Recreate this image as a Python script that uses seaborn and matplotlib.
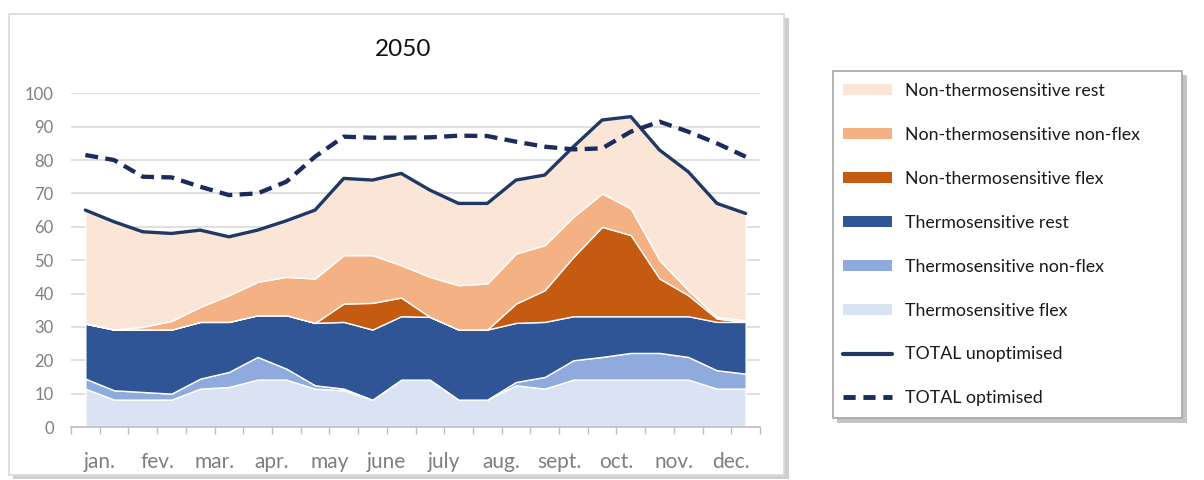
import numpy as np
import pandas as pd
import matplotlib
matplotlib.use("Agg")
import matplotlib.pyplot as plt
import seaborn as sns
from matplotlib.patches import Rectangle, Patch
from matplotlib.lines import Line2D

# ---- data (24 half-month points) ----
months = ["jan.", "fev.", "mar.", "apr.", "may", "june", "july", "aug.",
          "sept.", "oct.", "nov.", "dec."]
thermo_flex = [11.5, 8.2, 8.2, 8.2, 11.5, 12, 14.2, 14.2, 11.5, 11, 8.2, 14.2,
               14.2, 8.2, 8.2, 12.5, 11.5, 14.2, 14.2, 14.2, 14.2, 14.2, 11.5, 11.5]
thermo_nonflex = [3, 2.8, 2.3, 1.8, 3, 4.5, 6.8, 3.3, 1, 0.5, 0, 0,
                  0, 0, 0, 1, 3.5, 5.8, 6.8, 8, 8, 6.8, 5.5, 4.5]
thermo_rest = [16.5, 18.2, 18.7, 19.2, 17, 15, 12.5, 16, 18.7, 20, 21, 19,
               18.8, 21, 21, 17.7, 16.5, 13.2, 12.2, 11, 11, 12.2, 14.5, 15.5]
nonthermo_flex = [0, 0, 0, 0, 0, 0, 0, 0, 0, 5.5, 8, 5.6,
                  0, 0, 0, 5.8, 9.5, 17.8, 26.8, 24.3, 11.3, 6.3, 1, 0]
nonthermo_nonflex = [0, 0, 0.8, 2.6, 4.5, 8, 10, 11.5, 13.3, 14.5, 14.3, 9.7,
                     12, 13.3, 13.8, 15, 13.5, 12, 10, 8, 5.5, 1.5, 0.5, 0.5]
nonthermo_rest = [34, 32.3, 28.5, 26.2, 23, 17.5, 15.5, 16.5, 20.5, 23, 22.5, 27.5,
                  26, 24.5, 24, 22, 21, 21, 22, 27.5, 33, 35.5, 34, 32]
total_unoptimised = [65, 61.5, 58.5, 58, 59, 57, 59, 61.8, 65, 74.5, 74, 76,
                     71, 67, 67, 74, 75.5, 84, 92, 93, 83, 76.5, 67, 64]
total_optimised = [81.5, 80, 75, 74.8, 72, 69.5, 70, 73.5, 81, 87, 86.7, 86.7,
                   86.8, 87.3, 87.2, 85.5, 84, 83.2, 83.5, 88.5, 91.5, 88.5, 85, 81]

layer_names = ["Thermosensitive flex", "Thermosensitive non-flex", "Thermosensitive rest",
               "Non-thermosensitive flex", "Non-thermosensitive non-flex",
               "Non-thermosensitive rest"]
layers = [thermo_flex, thermo_nonflex, thermo_rest,
          nonthermo_flex, nonthermo_nonflex, nonthermo_rest]
layer_colors = ["#DAE3F3", "#8FAADC", "#2F5597", "#C55A11", "#F4B183", "#FBE5D6"]
solid_col = "#203864"
dash_col = "#1A2B5C"

x = np.arange(len(total_unoptimised))
df = pd.DataFrame({"x": np.concatenate([x, x]),
                   "value": total_unoptimised + total_optimised,
                   "series": ["TOTAL unoptimised"] * len(x) + ["TOTAL optimised"] * len(x)})

sns.set_theme(style="white")
plt.rcParams["font.family"] = ["Lato", "DejaVu Sans"]

fig = plt.figure(figsize=(12.04, 4.8), dpi=100)
W, H = 1204, 480


def frect(x0, y0, x1, y1, **kw):
    fig.patches.append(Rectangle((x0 / W, 1 - y1 / H), (x1 - x0) / W, (y1 - y0) / H,
                                 transform=fig.transFigure, **kw))


# chart frame with shadow
frect(13, 18, 789, 479, facecolor="#CFCFCF", edgecolor="none", zorder=-3)
frect(9, 14, 784, 475, facecolor="white", edgecolor="#D9D9D9", lw=1.2, zorder=-2)
# legend frame with shadow
frect(837, 75, 1187, 423, facecolor="#C4C4C4", edgecolor="none", zorder=-3)
frect(833, 71, 1182, 418, facecolor="white", edgecolor="#A6A6A6", lw=1.2, zorder=-2)

ax = fig.add_axes([71 / W, 1 - 427 / H, (760 - 71) / W, (427 - 93.3) / H])
ax.set_facecolor("none")

ax.stackplot(x, *layers, colors=layer_colors, labels=layer_names, zorder=2)
sns.lineplot(data=df[df.series == "TOTAL unoptimised"], x="x", y="value",
             color=solid_col, linewidth=2.4, legend=False, ax=ax, zorder=3)
sns.lineplot(data=df[df.series == "TOTAL optimised"], x="x", y="value",
             color=dash_col, linewidth=3.1, dashes=(3.0, 1.7), legend=False, ax=ax, zorder=3)

ax.set_xlim(-0.5, len(x) - 0.5)
ax.set_ylim(0, 100)
ax.set_yticks(np.arange(0, 101, 10))
ax.yaxis.grid(True, color="#D9D9D9", lw=1.2, zorder=0)
ax.set_axisbelow(True)
ticks = np.arange(-0.5, len(x), 1)
labels = [months[(i - 1) // 2] if i % 2 == 1 else "" for i in range(len(ticks))]
ax.set_xticks(ticks)
ax.set_xticklabels(labels)
ax.tick_params(axis="x", length=5, width=1, color="#BFBFBF", direction="out",
               pad=13, labelsize=15, labelcolor="#7F7F7F", bottom=True)
ax.tick_params(axis="y", length=0, pad=12.5, labelsize=12, labelcolor="#7F7F7F")
for s in ["top", "right", "left"]:
    ax.spines[s].set_visible(False)
ax.spines["bottom"].set_color("#BFBFBF")
ax.spines["bottom"].set_linewidth(1.2)
ax.set_xlabel("")
ax.set_ylabel("")

fig.text(403 / W, 1 - 49 / H, "2050", ha="center", va="center", fontsize=17.5, color="#111111")

# legend
handles = [Patch(facecolor=layer_colors[i], edgecolor="none") for i in [5, 4, 3, 2, 1, 0]]
handles += [Line2D([], [], color=solid_col, lw=3),
            Line2D([], [], color=dash_col, lw=3.5, dashes=(2.5, 1.6))]
names = [layer_names[i] for i in [5, 4, 3, 2, 1, 0]] + ["TOTAL unoptimised", "TOTAL optimised"]
leg = fig.legend(handles, names, loc="upper left", bbox_to_anchor=(843 / W, 1 - 83 / H),
                 frameon=False, fontsize=12.8, handlelength=2.75, handleheight=0.6,
                 handletextpad=0.72, labelspacing=1.57, borderpad=0, borderaxespad=0)
for t in leg.get_texts():
    t.set_color("#1A1A1A")

fig.savefig("out.png", dpi=100)
